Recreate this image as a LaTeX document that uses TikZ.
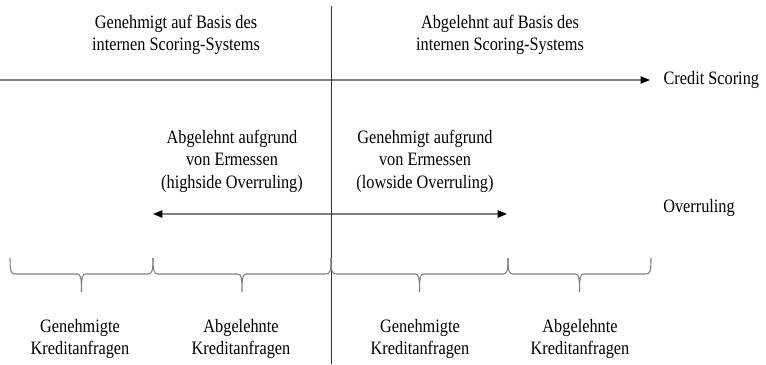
\documentclass[tikz,border=0pt]{standalone}
\usepackage{fontspec}
\setmainfont[FakeStretch=0.86]{Liberation Serif}
\usetikzlibrary{arrows.meta,calc,positioning}

\begin{document}
\begin{tikzpicture}[x=0.75pt,y=-0.75pt,
	  txt/.style={align=center,inner sep=0pt,font=\fontsize{14.2}{16.8}\selectfont},
	  axisline/.style={draw=gray,line width=1.1pt},
	  arr/.tip={Triangle[length=7pt,width=5.5pt,black]},
	  brc/.style={draw=gray,line width=0.8pt,
	    to path={(\tikztostart) .. controls ($(\tikztostart)+(0,13)$) and ($(\tikztostart)+(1,16)$) .. ($(\tikztostart)+(5,16)$)
	      -- ($(\tikztostart)!0.5!(\tikztotarget)+(-4,16)$)
	      .. controls ($(\tikztostart)!0.5!(\tikztotarget)+(-1,16)$) and ($(\tikztostart)!0.5!(\tikztotarget)+(0,19)$) .. ($(\tikztostart)!0.5!(\tikztotarget)+(0,34)$)
	      ($(\tikztostart)!0.5!(\tikztotarget)+(0,34)$)
	      .. controls ($(\tikztostart)!0.5!(\tikztotarget)+(0,19)$) and ($(\tikztostart)!0.5!(\tikztotarget)+(1,16)$) .. ($(\tikztostart)!0.5!(\tikztotarget)+(4,16)$)
	      -- ($(\tikztotarget)+(-5,16)$)
	      .. controls ($(\tikztotarget)+(-1,16)$) and ($(\tikztotarget)+(0,13)$) .. (\tikztotarget)}}]
	
	  \useasboundingbox (0,0) rectangle (766,364);
	
	  % achsen
	  \coordinate (v0) at (331,6);
	  \coordinate (v1) at (331,364);
	  \coordinate (a0) at (0,80);
	  \coordinate (a1) at (650,80);
	  \coordinate (hl) at (153,214);
	  \coordinate (hr) at (507,214);
	
	  \node[txt,right=10pt of a1] (cs) {Credit Scoring};
	  \node[txt,anchor=west] (ovr) at (663,208) {Overruling};
	
	  \node[txt] (gen) at (176,35) {Genehmigt auf Basis des\\internen Scoring-Systems};
	  \node[txt] (abg) at (500,35) {Abgelehnt auf Basis des\\internen Scoring-Systems};
	  \node[txt] (high) at (232,161) {Abgelehnt aufgrund\\von Ermessen\\(highside Overruling)};
	  \node[txt] (low) at (425,161) {Genehmigt aufgrund\\von Ermessen\\(lowside Overruling)};
	
	  % klammern
	  \coordinate (b0) at (10,258);
	  \coordinate (b1) at (153,258);
	  \coordinate (b2) at (331,258);
	  \coordinate (b3) at (508,258);
	  \coordinate (b4) at (651,258);
	
	  \node[txt] (k1) at (80,339) {Genehmigte\\Kreditanfragen};
	  \node[txt] (k2) at (241,339) {Abgelehnte\\Kreditanfragen};
	  \node[txt] (k3) at (420,339) {Genehmigte\\Kreditanfragen};
	  \node[txt] (k4) at (580,339) {Abgelehnte\\Kreditanfragen};
	
	  \draw[axisline,-arr] (a0) -- (a1);
	  \draw[axisline,arr-arr] (hl) -- (hr);
	  \draw[black!80,line width=0.6pt] (v0) -- (v1);
	
	  \draw[brc] (b0) to (b1);
	  \draw[brc] (b1) to (b2);
	  \draw[brc] (b2) to (b3);
	  \draw[brc] (b3) to (b4);
	
	\end{tikzpicture}
\end{document}
